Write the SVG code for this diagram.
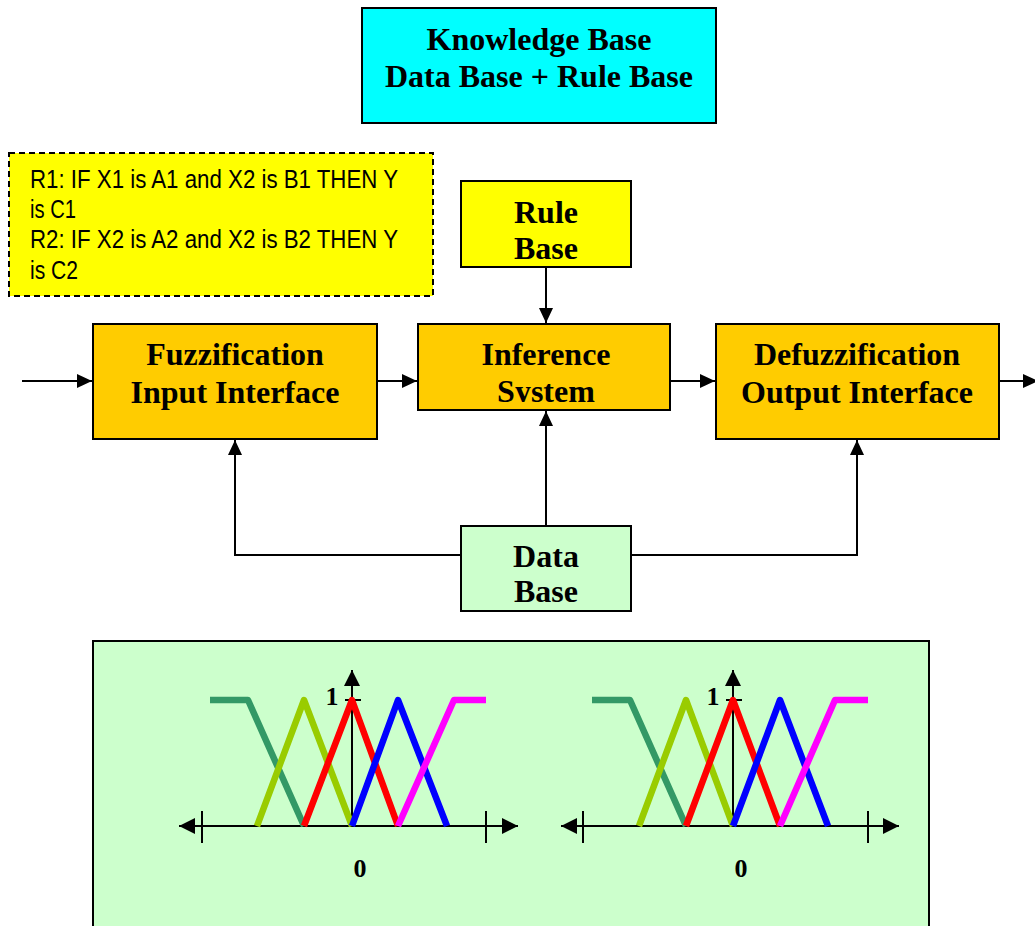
<svg xmlns="http://www.w3.org/2000/svg" width="1035" height="926" viewBox="0 0 1035 926">
  <style>
    .box { stroke: #000; stroke-width: 2; }
    .title { font-family: "Liberation Serif", "Times New Roman", serif; font-weight: bold; font-size: 32px; text-anchor: middle; fill: #000; }
    .rule { font-family: "Liberation Sans", Arial, sans-serif; font-size: 25px; fill: #000; }
    .wire { fill: none; stroke: #000; stroke-width: 2; }
    .axis { fill: none; stroke: #000; stroke-width: 2; }
    .mf { fill: none; stroke-width: 6.5; stroke-linejoin: round; }
    .lbl { font-family: "Liberation Serif", "Times New Roman", serif; font-weight: bold; font-size: 26px; text-anchor: middle; fill: #000; }
  </style>
  <defs>
    <marker id="arr" viewBox="0 0 15 14" refX="15" refY="7" markerWidth="15" markerHeight="14" markerUnits="userSpaceOnUse" orient="auto">
      <path d="M0,0 L15,7 L0,14 Z" fill="#000"/>
    </marker>
    <marker id="axarr" viewBox="0 0 16 16" refX="16" refY="8" markerWidth="16" markerHeight="16" markerUnits="userSpaceOnUse" orient="auto">
      <path d="M0,0 L16,8 L0,16 Z" fill="#000"/>
    </marker>
    <clipPath id="infClip"><rect x="418" y="324" width="252" height="78"/></clipPath>
  </defs>

  <rect width="1035" height="926" fill="#fff"/>

  <g id="knowledge-base">
    <rect class="box" x="362" y="8" width="354" height="115" fill="#00FFFF"/>
    <text class="title" x="539" y="50">Knowledge Base</text>
    <text class="title" x="539" y="87">Data Base + Rule Base</text>
  </g>

  <g id="rules">
    <rect x="9" y="153" width="424" height="143" fill="#FFFF00" stroke="#000" stroke-width="2" stroke-dasharray="6,4"/>
    <text class="rule" x="30" y="188" textLength="368" lengthAdjust="spacingAndGlyphs">R1: IF X1 is A1 and  X2 is B1 THEN Y</text>
    <text class="rule" x="30" y="218" textLength="46" lengthAdjust="spacingAndGlyphs">is C1</text>
    <text class="rule" x="30" y="248" textLength="368" lengthAdjust="spacingAndGlyphs">R2: IF X2 is A2 and  X2 is B2 THEN Y</text>
    <text class="rule" x="30" y="279" textLength="48" lengthAdjust="spacingAndGlyphs">is C2</text>
  </g>

  <g id="rule-base">
    <rect class="box" x="461" y="181" width="170" height="86" fill="#FFFF00"/>
    <text class="title" x="546" y="223">Rule</text>
    <text class="title" x="546" y="259">Base</text>
  </g>

  <g id="fuzzification">
    <rect class="box" x="93" y="324" width="284" height="115" fill="#FFCC00"/>
    <text class="title" x="235" y="365">Fuzzification</text>
    <text class="title" x="235" y="403">Input Interface</text>
  </g>

  <g id="inference">
    <rect class="box" x="418" y="324" width="252" height="86" fill="#FFCC00"/>
    <g clip-path="url(#infClip)">
      <text class="title" x="546" y="365">Inference</text>
      <text class="title" x="546" y="402">System</text>
    </g>
  </g>

  <g id="defuzzification">
    <rect class="box" x="716" y="324" width="283" height="115" fill="#FFCC00"/>
    <text class="title" x="857" y="365">Defuzzification</text>
    <text class="title" x="857" y="403">Output Interface</text>
  </g>

  <g id="data-base">
    <rect class="box" x="461" y="526" width="170" height="85" fill="#CCFFCC"/>
    <text class="title" x="546" y="567">Data</text>
    <text class="title" x="546" y="602">Base</text>
  </g>

  <g id="connectors">
    <line class="wire" x1="22" y1="381" x2="92" y2="381" marker-end="url(#arr)"/>
    <line class="wire" x1="377" y1="381" x2="417" y2="381" marker-end="url(#arr)"/>
    <line class="wire" x1="670" y1="381" x2="715" y2="381" marker-end="url(#arr)"/>
    <line class="wire" x1="999" y1="381" x2="1038" y2="381" marker-end="url(#arr)"/>
    <line class="wire" x1="546" y1="267" x2="546" y2="323" marker-end="url(#arr)"/>
    <line class="wire" x1="546" y1="526" x2="546" y2="411" marker-end="url(#arr)"/>
    <polyline class="wire" points="461,555 235,555 235,440" marker-end="url(#arr)"/>
    <polyline class="wire" points="631,555 857,555 857,440" marker-end="url(#arr)"/>
  </g>

  <g id="membership-panel">
    <rect x="93" y="641" width="836" height="300" fill="#CCFFCC" stroke="#000" stroke-width="2"/>

    <!-- input universe -->
    <g id="chart-input">
      <line class="axis" x1="202" y1="826" x2="179" y2="826" marker-end="url(#axarr)"/>
      <line class="axis" x1="202" y1="826" x2="518" y2="826" marker-end="url(#axarr)"/>
      <line class="axis" x1="202" y1="811" x2="202" y2="843"/>
      <line class="axis" x1="486" y1="811" x2="486" y2="843"/>
      <line class="axis" x1="352" y1="826" x2="352" y2="670" marker-end="url(#axarr)"/>
      <line class="axis" x1="345" y1="700" x2="361" y2="700"/>
      <polyline class="mf" stroke="#339966" points="210,700 248,700 304,826"/>
      <polyline class="mf" stroke="#99CC00" points="257,826 304,700 352,826"/>
      <polyline class="mf" stroke="#FF0000" points="304,826 352,700 398,826"/>
      <polyline class="mf" stroke="#0000FF" points="352,826 398,700 447,826"/>
      <polyline class="mf" stroke="#FF00FF" points="398,826 454,700 486,700"/>
      <text class="lbl" x="332" y="705">1</text>
      <text class="lbl" x="360" y="877">0</text>
    </g>

    <!-- output universe -->
    <g id="chart-output">
      <line class="axis" x1="583" y1="826" x2="561" y2="826" marker-end="url(#axarr)"/>
      <line class="axis" x1="583" y1="826" x2="899" y2="826" marker-end="url(#axarr)"/>
      <line class="axis" x1="583" y1="811" x2="583" y2="843"/>
      <line class="axis" x1="868" y1="811" x2="868" y2="843"/>
      <line class="axis" x1="733" y1="826" x2="733" y2="670" marker-end="url(#axarr)"/>
      <line class="axis" x1="726" y1="700" x2="742" y2="700"/>
      <polyline class="mf" stroke="#339966" points="592,700 630,700 686,826"/>
      <polyline class="mf" stroke="#99CC00" points="639,826 686,700 733,826"/>
      <polyline class="mf" stroke="#FF0000" points="686,826 733,700 780,826"/>
      <polyline class="mf" stroke="#0000FF" points="733,826 780,700 828,826"/>
      <polyline class="mf" stroke="#FF00FF" points="780,826 835,700 868,700"/>
      <text class="lbl" x="713" y="705">1</text>
      <text class="lbl" x="741" y="877">0</text>
    </g>
  </g>
</svg>
